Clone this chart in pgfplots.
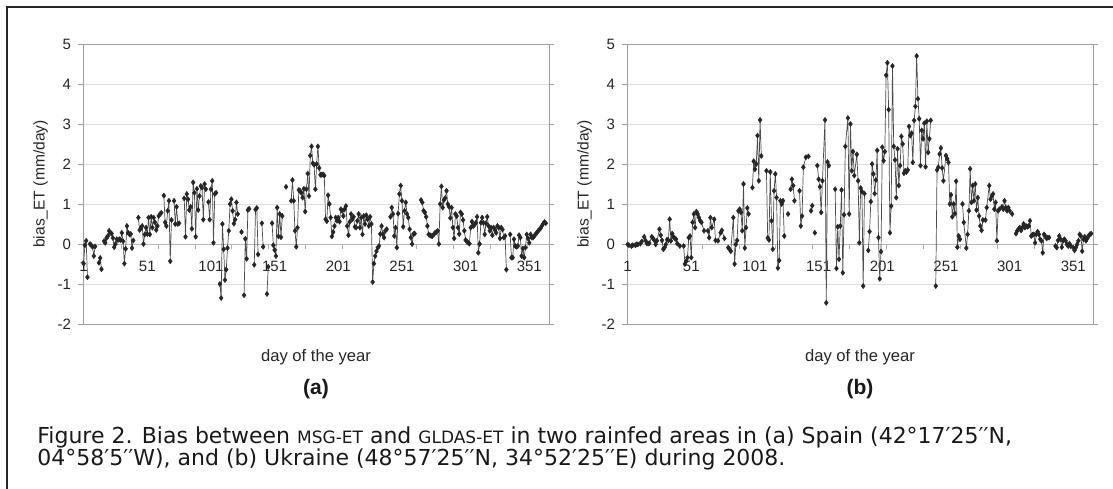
\documentclass[border=0pt]{standalone}
\usepackage{fontspec}
\setmainfont{Liberation Sans}
\newfontfamily\capfont{DejaVu Sans}
\usepackage{pgfplots}
\pgfplotsset{compat=1.18}
\usepackage{pgfplotstable}

\pgfplotstableread[row sep=\\]{x y\\
1 -0.49\\2 -0.03\\3 0.08\\4 -0.83\\5 nan\\6 0.00\\7 -0.03\\8 -0.07\\9 -0.30\\10 -0.06\\11 nan\\13 -0.47\\14 -0.35\\15 -0.63\\16 nan\\
17 0.07\\18 0.03\\19 0.15\\20 0.20\\21 0.33\\22 0.28\\23 0.26\\24 0.15\\25 -0.08\\26 0.00\\27 0.12\\28 0.10\\29 0.12\\30 0.10\\31 0.28\\32 0.07\\33 -0.49\\34 -0.12\\35 0.45\\36 0.28\\37 0.24\\38 0.25\\39 -0.10\\40 0.09\\41 nan\\
44 0.66\\45 0.35\\46 0.41\\47 0.45\\48 0.00\\49 0.24\\50 0.41\\51 0.25\\52 0.66\\53 0.24\\54 0.68\\55 0.41\\56 0.66\\57 0.54\\58 0.35\\59 0.45\\60 0.70\\61 0.75\\62 0.78\\63 nan\\
64 1.21\\65 0.54\\66 0.45\\67 0.83\\68 1.08\\69 -0.43\\70 0.60\\71 nan\\72 1.08\\73 0.50\\74 0.93\\75 0.50\\76 0.52\\77 nan\\
80 1.14\\81 0.18\\82 1.25\\83 1.12\\84 0.85\\85 0.93\\86 0.38\\87 1.54\\88 1.28\\89 0.18\\90 1.38\\91 0.85\\92 1.20\\93 1.45\\94 1.41\\95 0.61\\96 1.50\\97 1.37\\98 nan\\99 1.05\\100 0.61\\101 1.37\\102 1.58\\103 0.03\\104 1.25\\105 1.28\\106 nan\\
108 -1.00\\109 -1.35\\110 0.50\\111 -0.13\\112 -0.90\\113 -0.64\\114 -0.10\\115 0.33\\116 1.00\\117 1.12\\118 0.83\\119 0.51\\120 0.61\\121 1.04\\122 0.75\\123 nan\\
125 0.30\\126 nan\\127 -1.28\\128 0.13\\129 -0.37\\130 0.85\\131 0.88\\132 nan\\135 -0.52\\136 0.86\\137 0.90\\138 -0.26\\139 nan\\141 0.52\\142 -0.07\\143 nan\\145 -1.25\\146 -0.57\\147 nan\\
149 0.52\\150 -0.03\\151 -0.15\\152 -0.30\\153 0.91\\154 0.19\\155 0.75\\156 0.17\\157 0.70\\158 nan\\160 1.43\\161 nan\\
164 1.08\\165 1.60\\166 1.08\\167 0.33\\168 -0.07\\169 0.41\\170 1.35\\171 1.33\\172 1.28\\173 1.16\\174 1.38\\175 0.81\\176 1.37\\177 1.76\\178 1.20\\179 2.21\\180 2.44\\181 2.02\\182 1.98\\183 1.37\\184 2.00\\185 2.44\\186 1.90\\187 1.73\\188 1.73\\189 1.74\\190 1.71\\
191 0.62\\192 0.57\\193 1.22\\194 1.00\\195 0.66\\196 0.19\\197 0.30\\198 0.45\\199 0.66\\200 0.58\\201 0.66\\202 0.56\\203 0.87\\204 0.83\\205 0.70\\206 0.87\\207 0.95\\208 0.45\\209 0.22\\210 0.55\\211 0.75\\212 0.62\\213 0.68\\214 0.43\\215 0.41\\216 0.58\\217 0.75\\218 0.41\\219 0.66\\220 0.24\\221 0.70\\222 0.50\\223 0.72\\224 0.62\\225 0.45\\226 0.68\\227 0.50\\
228 -0.95\\229 -0.49\\230 -0.30\\231 -0.18\\232 -0.09\\233 -0.05\\234 0.25\\235 0.45\\236 0.25\\237 0.16\\238 0.33\\239 0.37\\240 nan\\
242 0.68\\243 0.91\\244 0.75\\245 0.20\\246 0.41\\247 -0.09\\248 0.76\\249 1.25\\250 1.46\\251 1.08\\252 0.43\\253 0.83\\254 1.04\\255 0.75\\256 0.66\\257 0.37\\258 0.16\\259 0.00\\260 0.25\\261 0.26\\262 nan\\
266 1.10\\267 1.04\\268 0.83\\269 0.79\\270 0.68\\271 0.45\\272 0.24\\273 0.22\\274 0.20\\275 0.20\\276 0.24\\277 0.28\\278 0.30\\279 0.33\\280 0.00\\281 1.00\\282 1.44\\283 0.91\\284 1.10\\285 1.15\\286 1.33\\287 1.00\\288 0.93\\289 0.65\\290 0.91\\
291 0.41\\292 0.14\\293 0.75\\294 0.70\\295 0.41\\296 0.25\\297 0.79\\298 0.75\\299 0.60\\300 0.33\\301 0.10\\302 0.06\\303 0.03\\304 0.01\\305 0.41\\306 0.56\\307 0.45\\308 0.48\\309 0.53\\310 0.68\\311 -0.22\\312 0.00\\313 0.53\\314 0.66\\315 0.53\\316 0.24\\317 0.52\\318 0.68\\319 0.45\\320 0.33\\321 0.41\\322 0.22\\323 0.41\\324 0.36\\325 0.28\\326 0.45\\327 0.41\\328 0.14\\329 0.41\\330 0.36\\331 0.16\\332 0.20\\333 -0.64\\334 nan\\
336 0.24\\337 -0.34\\338 -0.34\\339 0.12\\340 -0.05\\341 -0.07\\342 -0.05\\343 0.22\\344 0.16\\345 -0.30\\346 -0.11\\347 -0.34\\348 -0.09\\349 0.24\\350 0.14\\351 0.03\\352 0.24\\353 0.16\\354 0.16\\355 0.20\\356 0.25\\357 0.28\\358 0.33\\359 0.36\\360 0.40\\361 0.46\\362 0.51\\363 0.55\\364 0.52\\
}\dataA

\pgfplotstableread[row sep=\\]{x y\\
1 -0.01\\2 -0.03\\4 -0.05\\5 -0.03\\7 -0.03\\8 -0.01\\9 -0.01\\11 0.01\\12 0.06\\14 0.18\\15 0.09\\16 0.02\\17 0.01\\18 0.02\\20 0.18\\21 0.14\\22 0.09\\23 -0.01\\24 0.08\\26 0.37\\27 0.22\\28 0.09\\29 -0.13\\30 -0.09\\31 -0.01\\32 0.11\\33 0.09\\34 0.62\\35 0.08\\36 0.26\\37 0.18\\38 0.14\\39 0.12\\40 0.01\\42 -0.05\\43 nan\\
45 -0.05\\46 -0.50\\47 -0.43\\48 -0.34\\49 0.16\\50 0.20\\51 -0.34\\52 0.54\\53 0.75\\54 0.41\\55 0.81\\56 0.75\\57 0.66\\58 0.58\\59 0.54\\61 0.33\\62 nan\\64 0.33\\65 0.16\\66 0.66\\67 0.41\\69 0.62\\70 0.09\\71 nan\\72 0.08\\74 0.28\\75 0.34\\77 0.14\\78 nan\\
80 -0.09\\81 -0.13\\82 -0.18\\84 0.66\\85 -0.50\\86 -0.01\\87 0.09\\88 0.83\\89 0.87\\90 0.79\\91 0.33\\92 1.50\\93 -0.10\\94 0.41\\95 0.90\\96 0.75\\97 nan\\
99 1.41\\100 2.07\\101 1.87\\102 2.00\\103 2.71\\104 1.58\\105 3.10\\106 2.20\\107 nan\\
110 1.83\\111 0.15\\112 0.10\\113 1.80\\114 0.58\\115 -0.13\\116 1.33\\117 1.75\\118 1.16\\119 -0.60\\120 -0.41\\121 1.08\\122 1.00\\123 1.08\\124 0.20\\125 nan\\
127 0.75\\128 nan\\129 1.37\\130 1.62\\131 1.46\\132 1.08\\133 nan\\136 1.33\\137 0.45\\138 0.70\\139 1.92\\141 2.17\\143 2.19\\144 nan\\145 0.83\\146 0.96\\147 nan\\148 0.28\\149 nan\\
150 1.96\\151 1.62\\152 1.43\\153 0.79\\154 1.58\\156 3.10\\157 -1.47\\158 2.05\\159 1.96\\160 nan\\
164 1.37\\165 -0.61\\166 0.43\\167 -0.38\\168 0.45\\169 1.35\\170 -0.72\\171 0.73\\172 2.44\\174 3.15\\175 0.75\\176 3.00\\177 1.83\\178 2.31\\179 1.71\\181 2.24\\182 1.58\\183 0.03\\184 1.40\\185 1.31\\186 -1.05\\187 1.26\\188 nan\\
190 -0.16\\191 0.31\\192 1.06\\193 2.00\\194 1.75\\195 1.26\\196 1.60\\197 2.34\\198 0.16\\199 -0.87\\200 -0.19\\201 2.42\\202 2.08\\203 2.31\\204 4.22\\205 4.53\\206 3.36\\207 0.28\\208 0.95\\209 4.45\\210 2.44\\211 2.10\\212 1.16\\213 2.38\\214 1.46\\215 1.96\\216 2.69\\217 2.50\\218 1.77\\219 1.83\\220 1.80\\221 1.85\\222 2.94\\223 2.71\\224 2.77\\225 2.04\\226 3.09\\227 3.44\\228 4.70\\229 3.63\\230 3.13\\231 1.96\\232 2.84\\233 2.63\\234 3.02\\235 1.93\\236 3.07\\237 2.29\\238 2.63\\239 3.09\\240 nan\\
243 -1.05\\244 1.85\\245 1.92\\246 2.25\\247 2.40\\248 1.90\\249 1.58\\251 2.21\\252 2.13\\253 2.04\\254 1.00\\255 1.23\\256 0.68\\257 1.00\\258 0.76\\259 1.57\\260 -0.08\\261 0.20\\262 0.12\\263 nan\\
264 1.00\\265 0.54\\267 -0.10\\268 0.24\\269 0.83\\270 1.88\\271 1.04\\272 1.46\\273 1.08\\274 1.50\\275 0.85\\276 1.16\\277 0.70\\278 0.45\\279 0.34\\280 0.60\\282 0.60\\283 0.91\\285 1.46\\286 1.12\\287 1.20\\288 1.25\\289 0.87\\290 1.04\\291 0.08\\292 0.83\\293 0.87\\295 0.93\\296 0.87\\297 1.08\\298 0.91\\299 0.83\\300 0.91\\301 0.83\\303 0.75\\304 nan\\
306 0.26\\307 0.33\\308 0.37\\309 0.41\\310 0.34\\311 0.41\\312 0.50\\313 0.41\\314 0.45\\315 0.43\\316 0.45\\317 0.58\\318 0.20\\319 0.23\\320 0.24\\321 0.03\\322 0.24\\323 0.31\\324 0.24\\325 0.12\\326 0.08\\327 -0.22\\328 0.24\\329 0.20\\330 0.14\\331 0.16\\332 0.16\\333 nan\\
337 -0.05\\338 -0.09\\339 0.09\\340 0.20\\341 0.12\\342 -0.08\\343 0.08\\344 0.12\\345 0.08\\346 -0.01\\347 -0.05\\348 0.01\\349 -0.05\\351 -0.09\\352 -0.16\\353 -0.09\\354 -0.01\\355 0.08\\356 0.24\\357 0.20\\358 -0.18\\359 0.12\\360 0.18\\361 0.08\\362 0.14\\363 0.20\\364 0.24\\365 0.26\\
}\dataB

\pgfplotsset{
  myax/.style={
    width=233pt, height=140pt, scale only axis,
    xmin=0.5, xmax=366.5, ymin=-2, ymax=5,
    ytick={-2,-1,0,1,2,3,4,5}, xtick=\empty,
    ymajorgrids, grid style={gray!25, line width=0.5pt},
    axis line style={gray!75, line width=0.5pt},
    tick style={gray!75, line width=0.5pt},
    tick align=outside, major tick length=2.5pt,
    yticklabel style={font=\fontsize{7.5}{9}\selectfont, text=black!85},
    /pgf/number format/assume math mode=true,
    ylabel={bias\_ET (mm/day)},
    ylabel style={font=\fontsize{7.8}{9}\selectfont, text=black!85, yshift=-2pt},
    unbounded coords=jump,
    clip=false,
  },
  myplot/.style={color=black!70, line width=0.35pt, mark=diamond*, mark size=1.3pt,
    mark options={fill=black!85, draw=black!85, line width=0.2pt}},
}
\newcommand{\zeroaxis}{%
  \draw[gray!55, line width=0.5pt] (axis cs:0.5,0) -- (axis cs:366.5,0);
  \pgfplotsinvokeforeach{30.5,59.5,88.5,117.5,146.5,175.5,204.5,233.5,262.5,291.5,320.5,349.5}{%
    \draw[gray!60, line width=0.5pt] (axis cs:##1,0) -- ++(0pt,-2.5pt);}
  \pgfplotsinvokeforeach{1,51,101,151,201,251,301,351}{%
    \node[font=\fontsize{7.5}{9}\selectfont, text=black!85, inner sep=0pt] at (axis cs:##1,0) [yshift=-11.3pt] {##1};}
}

\begin{document}
\begin{tikzpicture}
\path[use as bounding box] (0pt,0pt) rectangle (556.5pt,244pt);
\draw[line width=0.8pt, black!85] (3.5pt,-1pt) -- (3.5pt,240.5pt) -- (557pt,240.5pt);

\begin{axis}[myax, at={(41.5pt,82pt)}, anchor=south west]
\zeroaxis
\addplot[myplot] table {\dataA};
\end{axis}

\begin{axis}[myax, at={(313.5pt,82pt)}, anchor=south west]
\zeroaxis
\addplot[myplot] table {\dataB};
\end{axis}

\node[font=\fontsize{8.3}{9}\selectfont, text=black!85] at (158pt,65.5pt) {day of the year};
\node[font=\fontsize{10.5}{11}\selectfont\bfseries, text=black!90] at (158pt,49.5pt) {(a)};
\node[font=\fontsize{8.3}{9}\selectfont, text=black!85] at (430pt,65.5pt) {day of the year};
\node[font=\fontsize{10.5}{11}\selectfont\bfseries, text=black!90] at (430pt,49.5pt) {(b)};

\node[anchor=base west, inner sep=0pt, font=\capfont\fontsize{11}{12}\selectfont, text=black!90] at (18.5pt,22.5pt)
  {Figure 2. Bias between {\fontsize{8.5}{9}\selectfont MSG-ET} and {\fontsize{8.5}{9}\selectfont GLDAS-ET} in two rainfed areas in (a) Spain (42°17′25′′N,};
\node[anchor=base west, inner sep=0pt, font=\capfont\fontsize{11}{12}\selectfont, text=black!90] at (18.5pt,11.5pt)
  {04°58′5′′W), and (b) Ukraine (48°57′25′′N, 34°52′25′′E) during 2008.};
\end{tikzpicture}
\end{document}
